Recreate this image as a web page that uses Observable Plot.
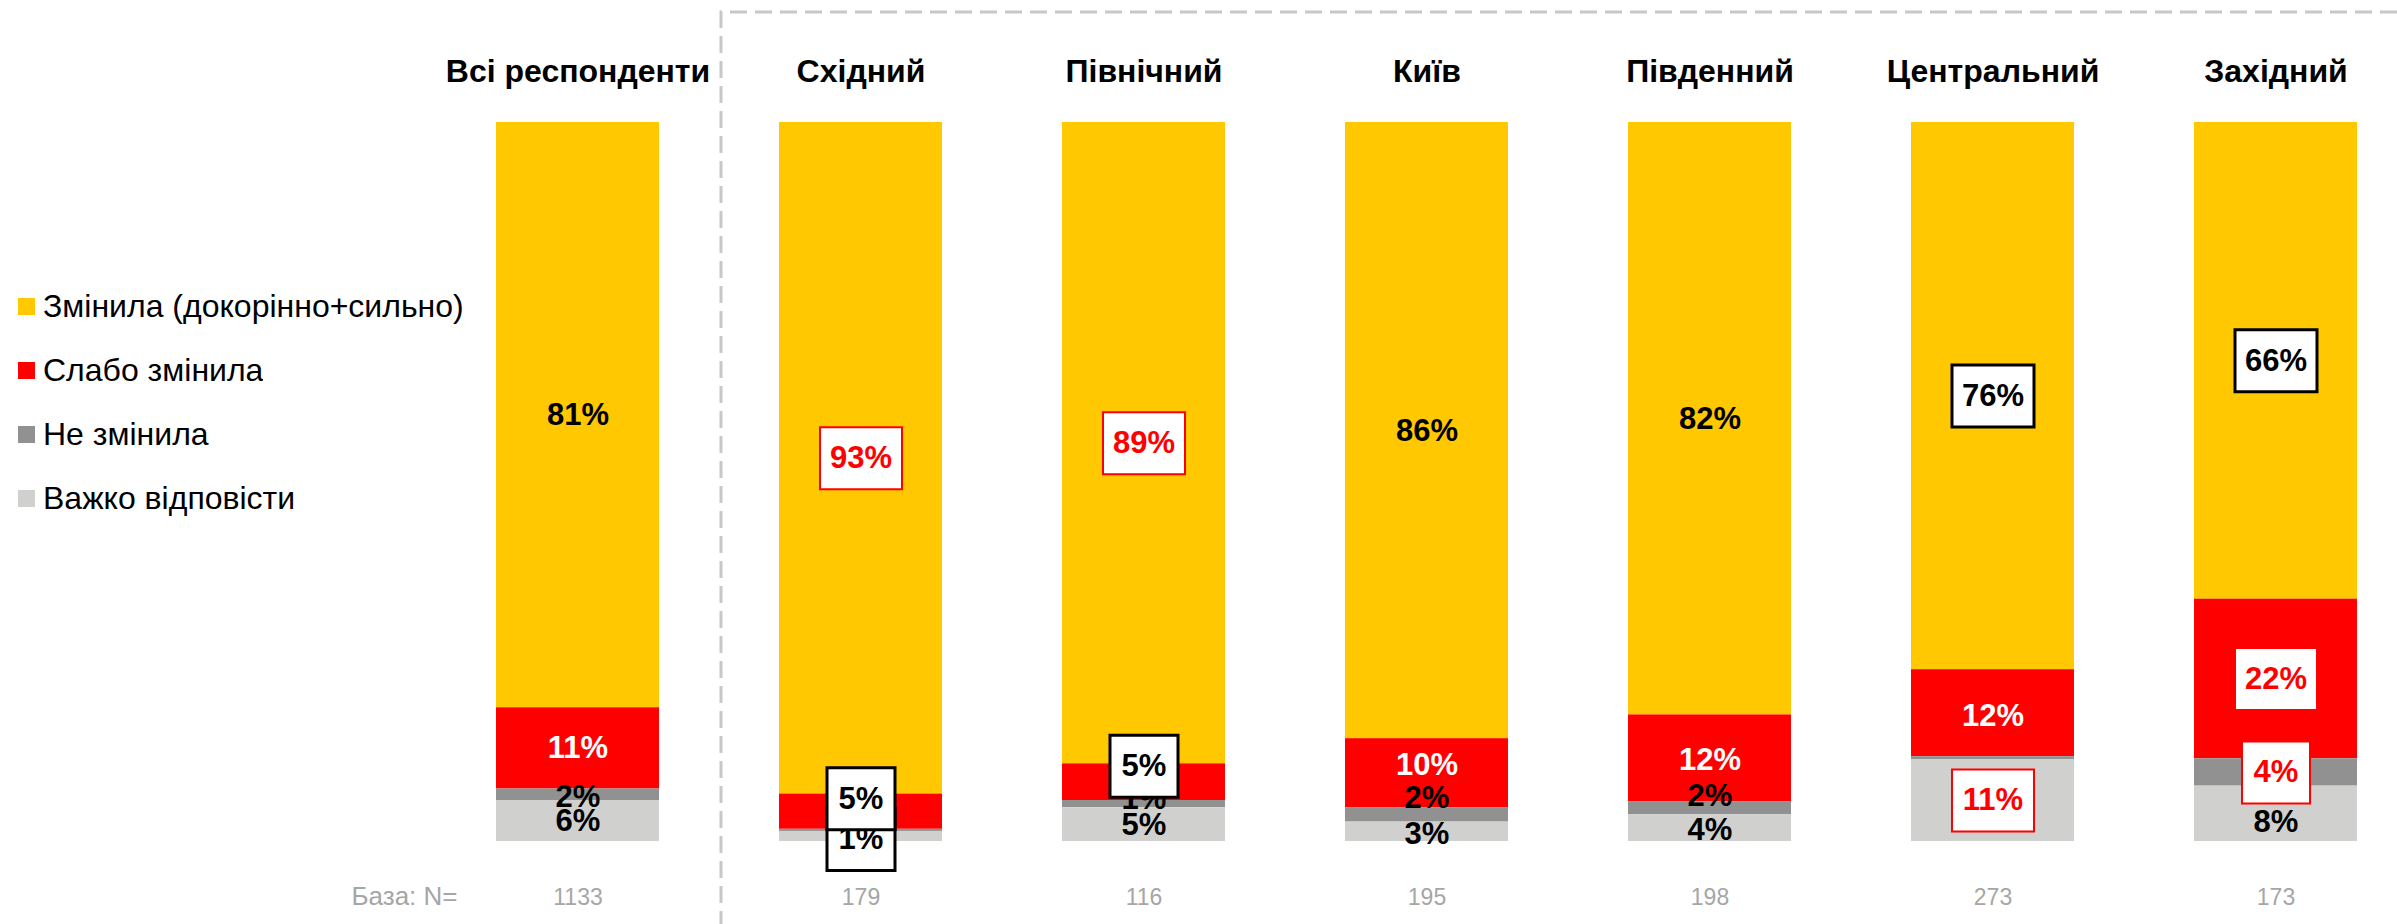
<!DOCTYPE html>
<html><head><meta charset="utf-8">
<script src="https://cdn.jsdelivr.net/npm/d3@7"></script>
<script src="https://cdn.jsdelivr.net/npm/@observablehq/plot@0.6"></script>
<style>
html,body{margin:0;padding:0;background:#fff;}
#wrap{position:relative;width:2397px;height:924px;font-family:"Liberation Sans",Arial,sans-serif;overflow:hidden;}
#chart{position:absolute;left:0;top:0;}
#legend{position:absolute;left:18px;top:274px;}
#legend .lg-swatches{font-family:"Liberation Sans",Arial,sans-serif;font-size:32px;color:#000;margin:0;}
#legend .lg-swatch{height:64px;padding-bottom:0;}
#legend .lg-swatch > svg{margin-right:8px;}
</style></head>
<body><div id="wrap"><div id="chart"></div><div id="legend"></div></div>
<script>
// ---- data ----
const regions = ["Всі респонденти","Східний","Північний","Київ","Південний","Центральний","Західний"];
const sampleN = [1133,179,116,195,198,273,173];
const baseLabel = "База: N=";
const seriesNames = ["Змінила (докорінно+сильно)","Слабо змінила","Не змінила","Важко відповісти"];
const seriesColors = ["#FFC800","#FF0000","#919191","#D0D1CF"];
const changed    = [81.4, 93.4, 89.2, 85.7, 82.4, 76.1, 66.3];
const weak       = [11.3,  4.9,  5.1,  9.6, 12.1, 12.1, 22.2];
const notChanged = [ 1.6,  0.3,  1.0,  2.0,  1.8,  0.4,  3.8];
const hard       = [ 5.7,  1.4,  4.7,  2.7,  3.7, 11.4,  7.7];
// significance flags: "+" higher (red box), "-" lower (black box)
const sigChanged = ["", "+", "+", "", "", "-", "-"];
const sigWeak    = ["", "-", "-", "", "", "", "+"];
const sigNot     = ["", "", "", "", "", "", "+"];
const sigHard    = ["", "-", "", "", "", "+", ""];

// ---- layout / style ----
const W = 2397, H = 924;
const mTop = 122, mBottom = 83, mLeft = 494, mRight = 38;
const pxPerUnit = (H - mTop - mBottom) / 100;
const FONT = '"Liberation Sans", Arial, sans-serif';
// label nudges in px (+ = down), keyed region|seriesIndex
const nudge = {
  "Всі респонденти|2": 2,
  "Східний|1": -13, "Східний|3": 3,
  "Північний|1": -16, "Північний|2": -5,
  "Київ|1": -8, "Київ|2": -17, "Київ|3": 2,
  "Південний|1": 2, "Південний|2": -12, "Південний|3": 2,
  "Центральний|1": 3,
  "Західний|3": 8
};

const valuesBySeries = [changed, weak, notChanged, hard];
const sigBySeries = [sigChanged, sigWeak, sigNot, sigHard];
const bottomUp = [3, 2, 1, 0];
const stackOrder = bottomUp.map(i => seriesNames[i]);

const rows = [];
regions.forEach((r, ri) => seriesNames.forEach((s, si) =>
  rows.push({region: r, series: s, value: valuesBySeries[si][ri]})));

const labels = [];
regions.forEach((r, ri) => {
  let base = 0;
  bottomUp.forEach(si => {
    const v = valuesBySeries[si][ri];
    const mid = base + v / 2; base += v;
    const n = Math.round(v);
    if (n < 1) return;
    const sig = sigBySeries[si][ri];
    labels.push({
      region: r, si, sig, text: n + "%",
      y: mid - (nudge[`${r}|${si}`] || 0) / pxPerUnit,
      color: sig === "+" ? "#FF0000" : sig === "-" ? "#000000" : (si === 1 ? "#FFFFFF" : "#000000")
    });
  });
});

const boxSymbol = (w, h) => ({draw(ctx) { ctx.rect(-w / 2, -h / 2, w, h); }});

const labelMarks = [];
for (const si of bottomUp) {
  const L = labels.filter(d => d.si === si);
  for (const [sig, stroke, sw] of [["+", "#FF0000", 2], ["-", "#000000", 3]]) {
    for (const [len, w] of [[2, 68], [3, 82]]) {
      const B = L.filter(d => d.sig === sig && d.text.length === len);
      if (B.length) labelMarks.push(Plot.dot(B, {x: "region", y: "y", symbol: boxSymbol(w, 62), r: 10, fill: "#FFFFFF", stroke, strokeWidth: sw}));
    }
  }
  for (const c of ["#000000", "#FFFFFF", "#FF0000"]) {
    const T = L.filter(d => d.color === c);
    if (T.length) labelMarks.push(Plot.text(T, {x: "region", y: "y", text: "text", fill: c, fontSize: 31, fontWeight: "bold"}));
  }
}

const chart = Plot.plot({
  width: W, height: H,
  marginTop: mTop, marginBottom: mBottom, marginLeft: mLeft, marginRight: mRight,
  style: {fontFamily: FONT, background: "transparent"},
  x: {type: "band", domain: regions, paddingInner: 0.4255, paddingOuter: 0, axis: null},
  y: {domain: [0, 100], axis: null},
  color: {domain: seriesNames, range: seriesColors},
  marks: [
    Plot.barY(rows, {x: "region", y: "value", fill: "series", order: stackOrder}),
    ...labelMarks,
    Plot.text(regions, {x: d => d, text: d => d, frameAnchor: "top", dy: -63, fontSize: 32, fontWeight: "bold", fill: "#000"}),
    Plot.text(regions, {x: d => d, text: (d, i) => String(sampleN[i]), frameAnchor: "bottom", dy: 63, fontSize: 23, fill: "#A6A6A6"}),
    Plot.text([baseLabel], {frameAnchor: "bottom-left", text: d => d, dx: -143, dy: 63, fontSize: 26, fill: "#A6A6A6"})
  ]
});

// dashed region frame
let lineX = 720;
try {
  const xs = chart.scale("x");
  lineX = (xs.apply(regions[0]) + xs.bandwidth + xs.apply(regions[1])) / 2 + 2;
} catch (e) {}
d3.select(chart).append("path")
  .attr("d", `M${W},12H${lineX}V${H}`)
  .attr("fill", "none").attr("stroke", "#C8C8C8")
  .attr("stroke-width", 3).attr("stroke-dasharray", "17,8");

document.getElementById("chart").appendChild(chart);
const lg = chart.legend("color", {columns: 1, swatchSize: 17, className: "lg"});
document.getElementById("legend").appendChild(lg);
</script>
</body></html>
